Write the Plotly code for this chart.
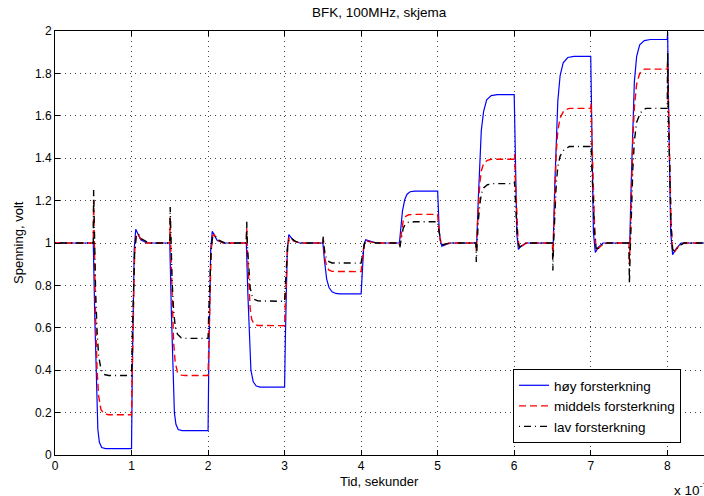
import plotly.graph_objects as go

# Time axis in units of 1e-7 s; voltage in volt.
hoy = [(0, 1), (0.5, 1),
       (0.52, 0.65), (0.54, 0.3), (0.56, 0.12), (0.58, 0.06), (0.61, 0.035), (0.66, 0.03), (1.0, 0.03),
       (1.01, 0.4), (1.02, 0.75), (1.035, 0.97), (1.055, 1.065), (1.08, 1.045), (1.12, 1.015), (1.2, 1.0), (1.5, 1.0),
       (1.52, 0.68), (1.54, 0.37), (1.56, 0.2), (1.58, 0.145), (1.61, 0.12), (1.66, 0.115), (2.0, 0.115),
       (2.01, 0.45), (2.02, 0.78), (2.035, 0.97), (2.055, 1.055), (2.08, 1.04), (2.12, 1.012), (2.2, 1.0), (2.5, 1.0),
       (2.52, 0.76), (2.54, 0.53), (2.56, 0.4), (2.59, 0.345), (2.63, 0.325), (2.68, 0.32), (3.0, 0.32),
       (3.01, 0.55), (3.02, 0.82), (3.035, 0.97), (3.055, 1.04), (3.08, 1.03), (3.12, 1.01), (3.2, 1.0), (3.5, 1.0),
       (3.52, 0.92), (3.55, 0.83), (3.58, 0.79), (3.62, 0.77), (3.67, 0.762), (3.72, 0.76), (4.0, 0.76),
       (4.01, 0.85), (4.02, 0.94), (4.035, 0.99), (4.06, 1.015), (4.1, 1.01), (4.2, 1.0), (4.5, 1.0),
       (4.52, 1.08), (4.54, 1.15), (4.57, 1.205), (4.6, 1.23), (4.64, 1.242), (4.7, 1.245), (5.0, 1.245),
       (5.01, 1.15), (5.02, 1.06), (5.035, 1.01), (5.055, 0.985), (5.09, 0.99), (5.15, 1.0), (5.5, 1.0),
       (5.51, 1.0), (5.53, 1.2), (5.55, 1.4), (5.57, 1.53), (5.6, 1.62), (5.64, 1.675), (5.7, 1.695), (5.78, 1.7), (6.0, 1.7),
       (6.01, 1.45), (6.02, 1.2), (6.035, 1.04), (6.055, 0.97), (6.09, 0.985), (6.15, 1.0), (6.5, 1.0),
       (6.51, 1.0), (6.53, 1.27), (6.55, 1.52), (6.57, 1.67), (6.6, 1.79), (6.64, 1.85), (6.7, 1.875), (6.78, 1.88), (7.0, 1.88),
       (7.01, 1.55), (7.02, 1.25), (7.035, 1.05), (7.06, 0.955), (7.1, 0.98), (7.16, 1.0), (7.5, 1.0),
       (7.51, 1.0), (7.53, 1.3), (7.55, 1.58), (7.57, 1.76), (7.6, 1.88), (7.64, 1.935), (7.7, 1.955), (7.78, 1.96), (8.0, 1.96),
       (8.005, 1.995), (8.015, 1.7), (8.03, 1.3), (8.045, 1.05), (8.07, 0.945), (8.11, 0.97), (8.18, 1.0), (8.5, 1.0)]

middels = [(0, 1), (0.5, 1),
           (0.505, 1.2), (0.515, 0.95), (0.53, 0.65), (0.55, 0.4), (0.57, 0.28), (0.6, 0.215), (0.64, 0.195), (0.7, 0.19), (1.0, 0.19),
           (1.01, 0.4), (1.025, 0.75), (1.04, 0.95), (1.06, 1.04), (1.08, 1.045), (1.12, 1.02), (1.2, 1.0), (1.5, 1.0),
           (1.505, 1.12), (1.515, 0.95), (1.53, 0.72), (1.55, 0.53), (1.57, 0.44), (1.6, 0.39), (1.65, 0.377), (1.7, 0.375), (2.0, 0.375),
           (2.01, 0.55), (2.025, 0.82), (2.04, 0.96), (2.06, 1.035), (2.08, 1.04), (2.12, 1.015), (2.2, 1.0), (2.5, 1.0),
           (2.505, 1.07), (2.515, 0.95), (2.53, 0.8), (2.55, 0.69), (2.57, 0.64), (2.6, 0.618), (2.65, 0.611), (3.0, 0.61),
           (3.01, 0.72), (3.025, 0.9), (3.04, 0.98), (3.06, 1.025), (3.085, 1.025), (3.12, 1.01), (3.2, 1.0), (3.5, 1.0),
           (3.505, 1.02), (3.515, 0.97), (3.53, 0.92), (3.55, 0.89), (3.58, 0.872), (3.62, 0.866), (4.0, 0.865),
           (4.01, 0.9), (4.025, 0.96), (4.045, 0.995), (4.07, 1.01), (4.12, 1.005), (4.2, 1.0), (4.5, 1.0),
           (4.505, 0.985), (4.515, 1.02), (4.53, 1.07), (4.55, 1.105), (4.58, 1.125), (4.62, 1.133), (4.7, 1.135), (5.0, 1.135),
           (5.01, 1.09), (5.025, 1.03), (5.045, 1.0), (5.07, 0.99), (5.12, 0.997), (5.2, 1.0), (5.5, 1.0),
           (5.505, 0.96), (5.515, 1.05), (5.53, 1.18), (5.55, 1.28), (5.57, 1.34), (5.6, 1.375), (5.65, 1.39), (5.7, 1.395), (6.0, 1.395),
           (6.005, 1.42), (6.015, 1.3), (6.03, 1.15), (6.05, 1.02), (6.07, 0.975), (6.1, 0.985), (6.16, 1.0), (6.5, 1.0),
           (6.505, 0.93), (6.515, 1.05), (6.53, 1.25), (6.55, 1.43), (6.57, 1.53), (6.6, 1.59), (6.65, 1.625), (6.72, 1.635), (7.0, 1.635),
           (7.005, 1.66), (7.015, 1.5), (7.03, 1.28), (7.05, 1.08), (7.07, 0.97), (7.1, 0.975), (7.16, 0.995), (7.22, 1.0), (7.5, 1.0),
           (7.505, 0.9), (7.515, 1.0), (7.53, 1.25), (7.55, 1.48), (7.57, 1.64), (7.6, 1.75), (7.64, 1.8), (7.7, 1.82), (8.0, 1.82),
           (8.005, 1.85), (8.015, 1.65), (8.03, 1.35), (8.05, 1.1), (8.07, 0.965), (8.1, 0.96), (8.15, 0.985), (8.22, 1.0), (8.5, 1.0)]

lav = [(0, 1), (0.5, 1),
       (0.505, 1.25), (0.515, 1.0), (0.53, 0.78), (0.55, 0.58), (0.57, 0.47), (0.6, 0.405), (0.64, 0.38), (0.7, 0.375), (1.0, 0.375),
       (1.01, 0.55), (1.025, 0.8), (1.04, 0.95), (1.06, 1.03), (1.085, 1.045), (1.13, 1.02), (1.2, 1.005), (1.25, 1.0), (1.5, 1.0),
       (1.505, 1.17), (1.515, 1.0), (1.53, 0.82), (1.55, 0.68), (1.57, 0.61), (1.6, 0.57), (1.65, 0.553), (1.7, 0.55), (2.0, 0.55),
       (2.01, 0.68), (2.025, 0.88), (2.04, 0.97), (2.06, 1.03), (2.09, 1.035), (2.13, 1.015), (2.22, 1.0), (2.5, 1.0),
       (2.505, 1.1), (2.515, 0.98), (2.53, 0.87), (2.55, 0.79), (2.57, 0.755), (2.6, 0.735), (2.65, 0.727), (3.0, 0.725),
       (3.01, 0.8), (3.025, 0.92), (3.04, 0.985), (3.06, 1.02), (3.09, 1.022), (3.14, 1.008), (3.22, 1.0), (3.5, 1.0),
       (3.505, 1.03), (3.515, 0.985), (3.53, 0.945), (3.55, 0.925), (3.58, 0.912), (3.62, 0.906), (4.0, 0.905),
       (4.01, 0.93), (4.025, 0.97), (4.045, 1.0), (4.07, 1.01), (4.12, 1.006), (4.2, 1.0), (4.5, 1.0),
       (4.505, 0.975), (4.515, 1.0), (4.53, 1.04), (4.55, 1.07), (4.58, 1.09), (4.62, 1.098), (4.7, 1.1), (5.0, 1.1),
       (5.01, 1.07), (5.025, 1.03), (5.045, 1.0), (5.07, 0.992), (5.12, 0.997), (5.2, 1.0), (5.5, 1.0),
       (5.505, 0.91), (5.515, 1.0), (5.53, 1.1), (5.55, 1.18), (5.57, 1.23), (5.6, 1.26), (5.65, 1.275), (5.72, 1.28), (6.0, 1.28),
       (6.005, 1.29), (6.015, 1.2), (6.03, 1.1), (6.05, 1.0), (6.07, 0.98), (6.1, 0.988), (6.16, 1.0), (6.5, 1.0),
       (6.505, 0.87), (6.515, 1.0), (6.53, 1.15), (6.55, 1.28), (6.57, 1.36), (6.6, 1.41), (6.65, 1.44), (6.72, 1.455), (7.0, 1.455),
       (7.005, 1.47), (7.015, 1.35), (7.03, 1.2), (7.05, 1.05), (7.07, 0.975), (7.1, 0.975), (7.16, 0.995), (7.22, 1.0), (7.5, 1.0),
       (7.505, 0.81), (7.515, 0.95), (7.53, 1.15), (7.55, 1.35), (7.57, 1.48), (7.6, 1.57), (7.65, 1.615), (7.72, 1.635), (8.0, 1.635),
       (8.005, 1.9), (8.015, 1.6), (8.03, 1.3), (8.05, 1.08), (8.07, 0.97), (8.1, 0.96), (8.15, 0.985), (8.22, 1.0), (8.5, 1.0)]

series_names = ["høy forsterkning", "middels forsterkning", "lav forsterkning"]
x_ticks = [0, 1, 2, 3, 4, 5, 6, 7, 8]
y_ticks = [0, 0.2, 0.4, 0.6, 0.8, 1.0, 1.2, 1.4, 1.6, 1.8, 2.0]
y_ticklabels = ["0", "0.2", "0.4", "0.6", "0.8", "1", "1.2", "1.4", "1.6", "1.8", "2"]

FONT = "Liberation Sans, Arial, Helvetica, sans-serif"

styles = [dict(color="#0000ff", width=1.2, dash="solid"),
          dict(color="#ff0000", width=1.4, dash="7px,4px"),
          dict(color="#000000", width=1.4, dash="1px,4px,7px,4px")]

fig = go.Figure()
for data, name, st in zip([hoy, middels, lav], series_names, styles):
    fig.add_trace(go.Scatter(x=[p[0] for p in data], y=[p[1] for p in data],
                             mode="lines", name=name, line=st))

W, H = 704, 496
L, T, B = 55, 31, 41
pw, ph = W - L, H - T - B

axis_common = dict(showgrid=True, gridcolor="#444444", griddash="1px,4px", gridwidth=1,
                   zeroline=False, showline=True, linecolor="black", linewidth=1,
                   ticks="inside", ticklen=5, tickcolor="black",
                   tickfont=dict(family=FONT, size=12, color="black"))

fig.update_layout(
    width=W, height=H,
    margin=dict(l=L, r=0, t=T, b=B),
    paper_bgcolor="white", plot_bgcolor="white",
    font=dict(family=FONT, size=12, color="black"),
    xaxis=dict(range=[0, 8.48], tickvals=x_ticks, ticktext=[str(v) for v in x_ticks],
               mirror="allticks", **axis_common),
    yaxis=dict(range=[0, 2], tickvals=y_ticks, ticktext=y_ticklabels, mirror=False, **axis_common),
    showlegend=True,
    legend=dict(x=(513 - L) / pw, y=(T + ph - 369) / ph, xanchor="left", yanchor="top",
                bgcolor="white", bordercolor="black", borderwidth=1,
                font=dict(family=FONT, size=13.5, color="black"), tracegroupgap=0),
    annotations=[
        dict(text="BFK, 100MHz, skjema", xref="paper", yref="paper", x=0.5, y=(T + ph - 12) / ph,
             showarrow=False, xanchor="center", yanchor="middle", font=dict(size=13.5)),
        dict(text="Tid, sekunder", xref="paper", yref="paper", x=0.5, y=(T + ph - 481) / ph,
             showarrow=False, xanchor="center", yanchor="middle", font=dict(size=13)),
        dict(text="Spenning, volt", xref="paper", yref="paper", x=(18 - L) / pw, y=0.5,
             showarrow=False, xanchor="center", yanchor="middle", textangle=-90, font=dict(size=13)),
        dict(text="x 10<sup>-7</sup>", xref="paper", yref="paper", x=(672 - L) / pw, y=(T + ph - 489) / ph,
             showarrow=False, xanchor="left", yanchor="middle", font=dict(size=13.5)),
    ],
)

fig.write_html("out.html")
